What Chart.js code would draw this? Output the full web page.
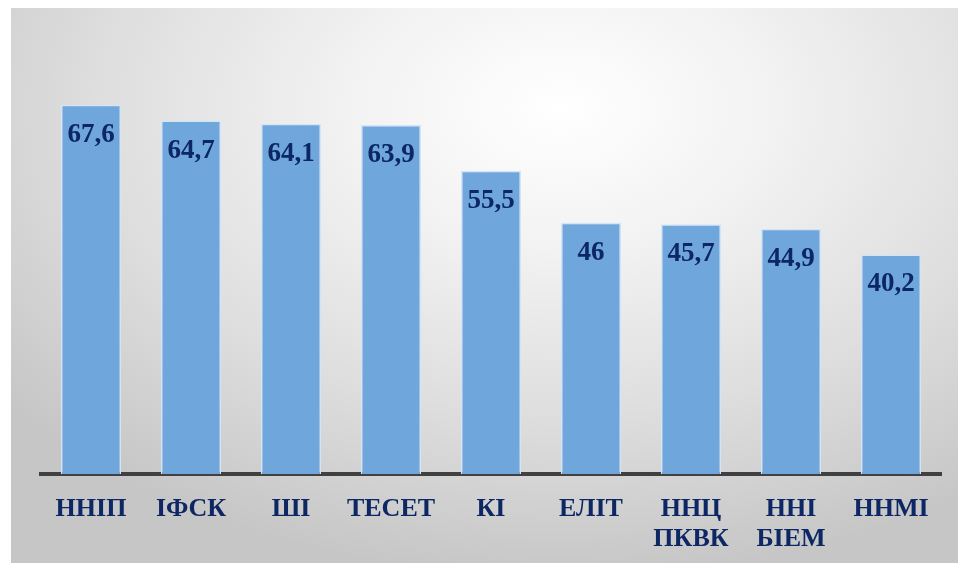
<!DOCTYPE html>
<html><head><meta charset="utf-8">
<script src="https://cdn.jsdelivr.net/npm/chart.js@4.4.1/dist/chart.umd.min.js"></script>
<style>
html,body{margin:0;padding:0;background:#fff;width:958px;height:563px;overflow:hidden;}
#bg{position:absolute;left:11px;top:8px;width:947px;height:555px;
background:radial-gradient(ellipse 75% 85% at 58% 18%, #ffffff 0%, #f2f2f2 30%, #dedede 65%, #c6c6c6 100%);}
canvas{position:absolute;left:0;top:0;}
</style></head><body>
<div id="bg"></div>
<canvas id="c" width="958" height="563"></canvas>
<script>
const categories = [["ННІП"],["ІФСК"],["ШІ"],["ТЕСЕТ"],["КІ"],["ЕЛІТ"],["ННЦ","ПКВК"],["ННІ","БІЕМ"],["ННМІ"]];
const values = [67.6, 64.7, 64.1, 63.9, 55.5, 46, 45.7, 44.9, 40.2];

const navy = '#0c2763';
const valueLabels = {
  id:'valueLabels',
  afterDatasetsDraw(chart){
    const ctx = chart.ctx;
    const meta = chart.getDatasetMeta(0);
    ctx.save();
    ctx.font = 'bold 27px "Liberation Serif", "Times New Roman", serif';
    ctx.fillStyle = navy;
    ctx.textAlign = 'center';
    ctx.textBaseline = 'middle';
    meta.data.forEach((bar,i)=>{
      const txt = String(values[i]).replace('.', ',');
      ctx.fillText(txt, bar.x, bar.y + 30);
    });
    ctx.restore();
  }
};

new Chart(document.getElementById('c'), {
  type:'bar',
  data:{labels:categories, datasets:[{data:values, backgroundColor:'#6fa6db', borderColor:'#d2e4f5', borderWidth:1.5, barPercentage:0.6, categoryPercentage:1}]},
  options:{
    responsive:false, animation:false,
    layout:{padding:{left:41, right:17, top:37, bottom:0}},
    plugins:{legend:{display:false}, tooltip:{enabled:false}},
    scales:{
      x:{
        grid:{display:false, drawTicks:false},
        border:{display:true, color:'#404040', width:4},
        ticks:{color:navy, padding:20, maxRotation:0, autoSkip:false,
          font:{family:'"Liberation Serif", "Times New Roman", serif', size:26, weight:'bold', lineHeight:1.15}},
        afterFit(s){ s.height = 89; }
      },
      y:{display:false, min:0, max:80}
    }
  },
  plugins:[valueLabels]
});
</script>
</body></html>
